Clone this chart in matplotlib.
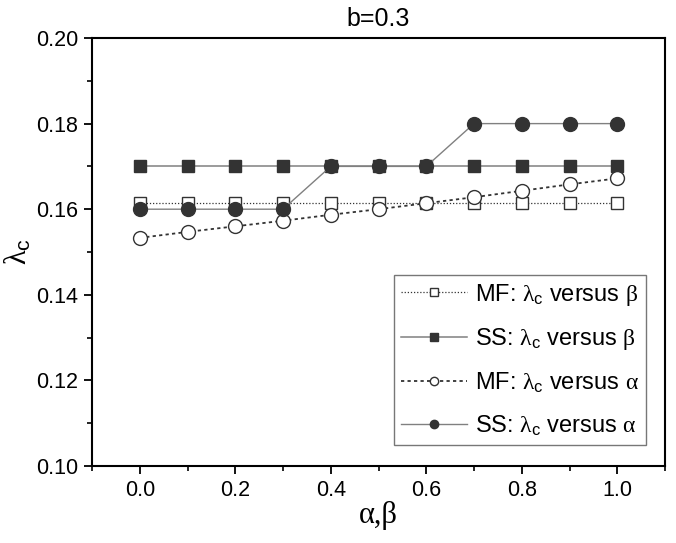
import matplotlib
matplotlib.use("Agg")
import matplotlib.pyplot as plt
from matplotlib.ticker import MultipleLocator, FormatStrFormatter

plt.rcParams["font.family"] = ["Liberation Sans", "DejaVu Sans"]
plt.rcParams["mathtext.fontset"] = "custom"
plt.rcParams["mathtext.rm"] = "Liberation Sans"
plt.rcParams["mathtext.it"] = "Liberation Serif"

x = [0.0, 0.1, 0.2, 0.3, 0.4, 0.5, 0.6, 0.7, 0.8, 0.9, 1.0]
mf_beta = [0.1615] * 11
ss_beta = [0.17] * 11
mf_alpha = [0.1533, 0.1547, 0.1560, 0.1573, 0.1587, 0.1600,
            0.1614, 0.1628, 0.1643, 0.1658, 0.1672]
ss_alpha = [0.16, 0.16, 0.16, 0.16, 0.17, 0.17, 0.17, 0.18, 0.18, 0.18, 0.18]

dark = "#333333"
line = "#808080"

fig = plt.figure(figsize=(6.76, 5.43), dpi=100)
ax = fig.add_axes([92 / 676, 1 - 466 / 543, 573 / 676, 428 / 543])

ax.plot(x, mf_beta, ls=(0, (1, 1.5)), lw=0.9, color=dark, marker="s", ms=9,
        mfc="white", mec=dark, mew=1.0,
        label=r"MF: $\lambda_{\rm c}$ versus $\beta$")
ax.plot(x, ss_beta, ls="-", lw=1.1, color=line, marker="s", ms=9,
        mfc=dark, mec=dark,
        label=r"SS: $\lambda_{\rm c}$ versus $\beta$")
ax.plot(x, mf_alpha, ls=(0, (1.8, 1.8)), lw=1.3, color=dark, marker="o", ms=10,
        mfc="white", mec=dark, mew=1.0,
        label=r"MF: $\lambda_{\rm c}$ versus $\alpha$")
ax.plot(x, ss_alpha, ls="-", lw=1.0, color=line, marker="o", ms=10,
        mfc=dark, mec=dark,
        label=r"SS: $\lambda_{\rm c}$ versus $\alpha$")

ax.set_xlim(-0.1, 1.1)
ax.set_ylim(0.10, 0.20)
ax.xaxis.set_major_locator(MultipleLocator(0.2))
ax.xaxis.set_minor_locator(MultipleLocator(0.1))
ax.yaxis.set_major_locator(MultipleLocator(0.02))
ax.yaxis.set_minor_locator(MultipleLocator(0.01))
ax.xaxis.set_major_formatter(FormatStrFormatter("%.1f"))
ax.yaxis.set_major_formatter(FormatStrFormatter("%.2f"))
ax.tick_params(which="major", direction="out", length=6, width=1.3,
               labelsize=15.5, pad=4)
ax.tick_params(which="minor", direction="out", length=3.5, width=1.2)
for s in ax.spines.values():
    s.set_linewidth(1.5)

ax.set_xlabel("α,β", fontsize=22, family="Liberation Serif", labelpad=0)
ax.set_ylabel(r"$\lambda_{\rm c}$", fontsize=22, labelpad=2)
ax.set_title("b=0.3", fontsize=18, pad=9)

leg = ax.legend(loc="lower right", bbox_to_anchor=(0.967, 0.05), fontsize=17,
                frameon=True, fancybox=False, edgecolor="#555555",
                handlelength=2.8, borderpad=0.3, labelspacing=0.78,
                handletextpad=0.35, borderaxespad=0, markerscale=0.6)
leg.get_frame().set_linewidth(1.0)

fig.savefig("out.png", dpi=100)
